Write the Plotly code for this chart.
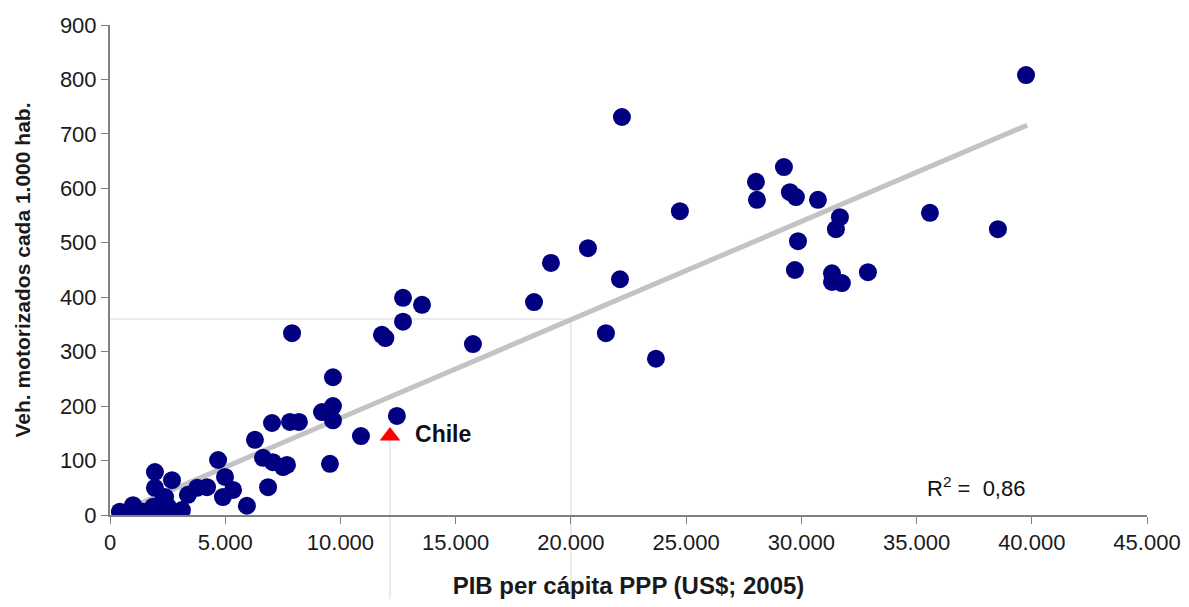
import plotly.graph_objects as go

# Countries: GDP per capita PPP (US$ 2005) and motor vehicles per 1,000 inhabitants
gdp = [39750, 22215, 29245, 28030, 28075, 29505, 29765, 30720, 24730, 20740,
       19135, 22130, 29855, 31675, 31500, 35580, 38530, 29720, 31330, 31330,
       31760, 32890, 18400, 12715, 13540, 12715, 11800, 11950, 7900, 15750,
       21520, 23690, 9675, 9675, 9675, 9200, 7810, 8200, 7030, 12450,
       10890, 9545, 6290, 6640, 7070, 7510, 7680, 6860, 5940, 4690,
       4990, 5340, 4900, 4210, 3380, 3780, 2690, 3120, 2390, 1950,
       1950, 2300, 1870, 1870, 1430, 1000, 780, 430, 2520, 2600]
veh = [808, 731, 639, 612, 579, 593, 584, 579, 558, 490,
       463, 433, 503, 547, 525, 555, 525, 450, 444, 428,
       426, 446, 391, 399, 386, 355, 331, 325, 334, 314,
       334, 287, 253, 200, 174, 189, 171, 171, 169, 182,
       145, 94, 138, 105, 97, 88, 92, 51, 17, 101,
       70, 46, 33, 51, 37, 50, 64, 9, 33, 79,
       50, 28, 15, 0, 6, 18, 0, 6, 15, 4]

chile_gdp = [12150]
chile_veh = [145]
chile_label = "\u00a0\u00a0<b>Chile</b>"

trend_x = [300, 39800]
trend_y = [3, 716]

guide_x = 20000
guide_y = 360

r2_pos = (37600, 52)
r2_text = "R<sup>2</sup> =  0,86"
x_title = "PIB per cápita PPP (US$; 2005)"
y_title = "Veh. motorizados cada 1.000 hab."

FONT = "Liberation Sans, Arial, sans-serif"

fig = go.Figure()

fig.add_trace(go.Scatter(
    x=trend_x, y=trend_y, mode="lines",
    line=dict(color="#C3C3C3", width=5), hoverinfo="skip", showlegend=False))

fig.add_trace(go.Scatter(
    x=gdp, y=veh, mode="markers",
    marker=dict(color="#000080", size=18, line=dict(width=0)),
    showlegend=False))

fig.add_trace(go.Scatter(
    x=chile_gdp, y=chile_veh, mode="markers+text",
    marker=dict(color="#FF0000", size=18, symbol="triangle-up", line=dict(width=0)),
    text=[chile_label], textposition="middle right",
    textfont=dict(family=FONT, size=23, color="#111111"),
    showlegend=False))

line_style = dict(color="#D8D8D8", width=1)
# thin guide lines (artifacts of the original figure)
fig.add_shape(type="line", xref="x", yref="y", x0=0, x1=guide_x, y0=guide_y, y1=guide_y,
              line=line_style, layer="below")
fig.add_shape(type="line", xref="x", yref="paper", x0=guide_x, x1=guide_x, y0=-0.2, y1=guide_y / 900,
              line=line_style, layer="below")
fig.add_shape(type="line", xref="x", yref="paper", x0=chile_gdp[0], x1=chile_gdp[0], y0=-0.2,
              y1=(chile_veh[0] - 10) / 900, line=line_style, layer="below")

fig.add_annotation(x=r2_pos[0], y=r2_pos[1], xref="x", yref="y", text=r2_text, showarrow=False,
                   xanchor="center", font=dict(family=FONT, size=22, color="#111111"))

fig.update_layout(
    width=1173, height=591,
    margin=dict(l=102, r=34, t=17, b=84),
    plot_bgcolor="white", paper_bgcolor="white",
    separators=",.",
    font=dict(family=FONT, size=22, color="#1a1a1a"),
    xaxis=dict(range=[0, 45000], dtick=5000, tickformat=",d",
               showgrid=False, zeroline=False, automargin=False,
               showline=True, linecolor="#808080", linewidth=2,
               ticks="outside", ticklen=7, tickcolor="#808080",
               title=dict(text="<b>" + x_title + "</b>", font=dict(size=24), standoff=30),
               tickfont=dict(size=22)),
    yaxis=dict(range=[0, 900], dtick=100,
               showgrid=False, zeroline=False, automargin=False,
               showline=True, linecolor="#808080", linewidth=2,
               ticks="outside", ticklen=7, tickcolor="#808080",
               title=dict(text="<b>" + y_title + "</b>", font=dict(size=21), standoff=24),
               tickfont=dict(size=22)),
)

fig.write_html("out.html")
